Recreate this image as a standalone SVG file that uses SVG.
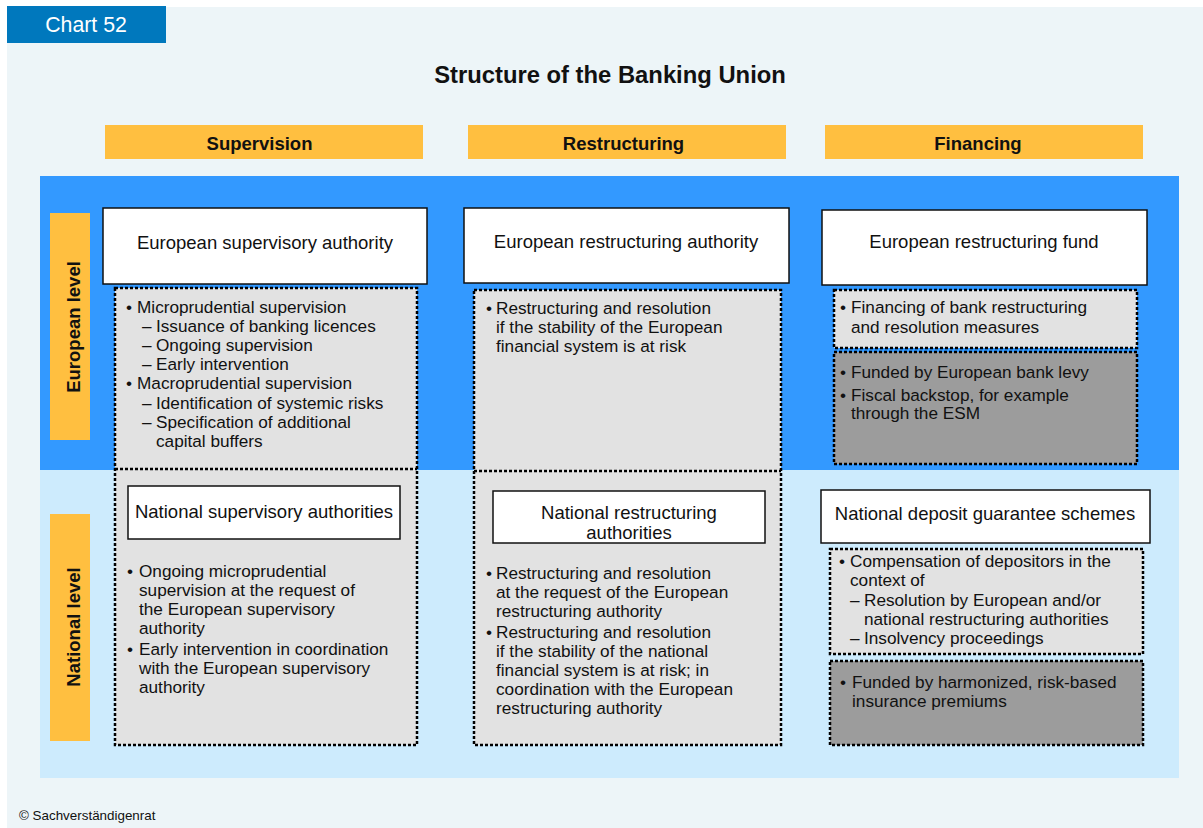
<svg xmlns="http://www.w3.org/2000/svg" width="1203" height="828" viewBox="0 0 1203 828">
  <style>
    text { font-family: "Liberation Sans", Arial, sans-serif; fill: #111; }
    .body { font-size: 17.2px; }
    .name { font-size: 18.5px; }
    .head { font-size: 18.5px; font-weight: bold; }
    .lvl { font-size: 18.5px; font-weight: bold; }
    .box { fill: #fff; stroke: #111; stroke-width: 1.5; }
    .dot { stroke: #000; stroke-width: 2.5; stroke-dasharray: 3 2; }
    .lt { fill: #e2e2e2; }
    .dk { fill: #9c9c9c; }
    .col { fill: #ffbf40; }
    .c { text-anchor: middle; }
  </style>

  <!-- page background -->
  <rect x="0" y="0" width="1203" height="828" fill="#fff"/>
  <rect x="7" y="7" width="1196" height="821" fill="#edf5f8"/>

  <!-- chart tag -->
  <rect x="7" y="6" width="159" height="37" fill="#0078bd"/>
  <text x="86" y="32" class="c" style="font-size:21.3px; fill:#fff">Chart 52</text>

  <text x="610" y="83" class="c" style="font-size:23.8px; font-weight:bold">Structure of the Banking Union</text>

  <!-- column headings -->
  <g id="col-supervision">
    <rect x="105" y="125" width="318" height="34" class="col"/>
    <text x="259.5" y="149.5" class="head c">Supervision</text>
  </g>
  <g id="col-restructuring">
    <rect x="468" y="125" width="318" height="34" class="col"/>
    <text x="623.5" y="149.5" class="head c">Restructuring</text>
  </g>
  <g id="col-financing">
    <rect x="825" y="125" width="318" height="34" class="col"/>
    <text x="978" y="149.5" class="head c">Financing</text>
  </g>

  <!-- level bands -->
  <rect x="40" y="176" width="1139" height="294" fill="#3399ff"/>
  <rect x="40" y="470" width="1139" height="308" fill="#cdebfd"/>

  <g id="level-european">
    <rect x="50" y="213" width="40" height="227" class="col"/>
    <text transform="translate(80 327) rotate(-90)" class="lvl c">European level</text>
  </g>
  <g id="level-national">
    <rect x="50" y="514" width="40" height="227" class="col"/>
    <text transform="translate(80 627) rotate(-90)" class="lvl c">National level</text>
  </g>

  <!-- supervision column -->
  <g id="supervision-tasks">
    <rect x="115" y="288" width="302" height="457" class="lt dot"/>
    <line x1="115" y1="469" x2="417" y2="469" class="dot"/>
    <text class="body">
      <tspan x="126" y="313">•</tspan><tspan x="137" y="313">Microprudential supervision</tspan>
      <tspan x="142" y="332">–</tspan><tspan x="156" y="332">Issuance of banking licences</tspan>
      <tspan x="142" y="351">–</tspan><tspan x="156" y="351">Ongoing supervision</tspan>
      <tspan x="142" y="370">–</tspan><tspan x="156" y="370">Early intervention</tspan>
      <tspan x="126" y="389">•</tspan><tspan x="137" y="389">Macroprudential supervision</tspan>
      <tspan x="142" y="409">–</tspan><tspan x="156" y="409">Identification of systemic risks</tspan>
      <tspan x="142" y="428">–</tspan><tspan x="156" y="428">Specification of additional</tspan>
      <tspan x="156" y="447">capital buffers</tspan>
    </text>
    <text class="body">
      <tspan x="127" y="577">•</tspan><tspan x="139" y="577">Ongoing microprudential</tspan>
      <tspan x="139" y="596">supervision at the request of</tspan>
      <tspan x="139" y="615">the European supervisory</tspan>
      <tspan x="139" y="634">authority</tspan>
      <tspan x="127" y="655">•</tspan><tspan x="139" y="655">Early intervention in coordination</tspan>
      <tspan x="139" y="674">with the European supervisory</tspan>
      <tspan x="139" y="693">authority</tspan>
    </text>
  </g>
  <g id="european-supervisory-authority">
    <rect x="103" y="208" width="324" height="76" class="box"/>
    <text x="265" y="249" class="name c">European supervisory authority</text>
  </g>
  <g id="national-supervisory-authorities">
    <rect x="128" y="486" width="272" height="53" class="box"/>
    <text x="264" y="518" class="name c">National supervisory authorities</text>
  </g>

  <!-- restructuring column -->
  <g id="restructuring-tasks">
    <rect x="474" y="290" width="307" height="455" class="lt dot"/>
    <line x1="474" y1="471" x2="781" y2="471" class="dot"/>
    <text class="body">
      <tspan x="486" y="314">•</tspan><tspan x="496" y="314">Restructuring and resolution</tspan>
      <tspan x="496" y="333">if the stability of the European</tspan>
      <tspan x="496" y="352">financial system is at risk</tspan>
    </text>
    <text class="body">
      <tspan x="486" y="579">•</tspan><tspan x="496" y="579">Restructuring and resolution</tspan>
      <tspan x="496" y="598">at the request of the European</tspan>
      <tspan x="496" y="617">restructuring authority</tspan>
      <tspan x="486" y="638">•</tspan><tspan x="496" y="638">Restructuring and resolution</tspan>
      <tspan x="496" y="657">if the stability of the national</tspan>
      <tspan x="496" y="676">financial system is at risk; in</tspan>
      <tspan x="496" y="695">coordination with the European</tspan>
      <tspan x="496" y="714">restructuring authority</tspan>
    </text>
  </g>
  <g id="european-restructuring-authority">
    <rect x="464" y="208" width="325" height="75" class="box"/>
    <text x="626" y="248" class="name c">European restructuring authority</text>
  </g>
  <g id="national-restructuring-authorities">
    <rect x="493" y="491" width="272" height="52" class="box"/>
    <text x="629" y="518.5" class="name c">National restructuring</text>
    <text x="629" y="538.5" class="name c">authorities</text>
  </g>

  <!-- financing column -->
  <g id="european-restructuring-fund">
    <rect x="822" y="210" width="325" height="75" class="box"/>
    <text x="984" y="248" class="name c">European restructuring fund</text>
  </g>
  <g id="fund-purpose">
    <rect x="834" y="290" width="303" height="58" class="lt dot"/>
    <text class="body">
      <tspan x="840" y="313">•</tspan><tspan x="851" y="313">Financing of bank restructuring</tspan>
      <tspan x="851" y="333">and resolution measures</tspan>
    </text>
  </g>
  <g id="fund-sources">
    <rect x="834" y="352" width="303" height="112" class="dk dot"/>
    <text class="body">
      <tspan x="840" y="378">•</tspan><tspan x="851" y="378">Funded by European bank levy</tspan>
      <tspan x="840" y="401">•</tspan><tspan x="851" y="401">Fiscal backstop, for example</tspan>
      <tspan x="851" y="419">through the ESM</tspan>
    </text>
  </g>
  <g id="national-deposit-guarantee-schemes">
    <rect x="821" y="490" width="329" height="53" class="box"/>
    <text x="985" y="519.5" class="name c">National deposit guarantee schemes</text>
  </g>
  <g id="deposit-compensation">
    <rect x="830" y="549" width="313" height="105" class="lt dot"/>
    <text class="body">
      <tspan x="839" y="567">•</tspan><tspan x="850" y="567">Compensation of depositors in the</tspan>
      <tspan x="850" y="586">context of</tspan>
      <tspan x="850" y="606">–</tspan><tspan x="864" y="606">Resolution by European and/or</tspan>
      <tspan x="864" y="625">national restructuring authorities</tspan>
      <tspan x="850" y="644">–</tspan><tspan x="864" y="644">Insolvency proceedings</tspan>
    </text>
  </g>
  <g id="deposit-funding">
    <rect x="830" y="661" width="313" height="84" class="dk dot"/>
    <text class="body">
      <tspan x="840" y="688">•</tspan><tspan x="852" y="688">Funded by harmonized, risk-based</tspan>
      <tspan x="852" y="707">insurance premiums</tspan>
    </text>
  </g>

  <!-- no connectors in this chart -->
  <g id="connectors"/>

  <text x="19" y="820" style="font-size:13.4px">© Sachverständigenrat</text>
</svg>
